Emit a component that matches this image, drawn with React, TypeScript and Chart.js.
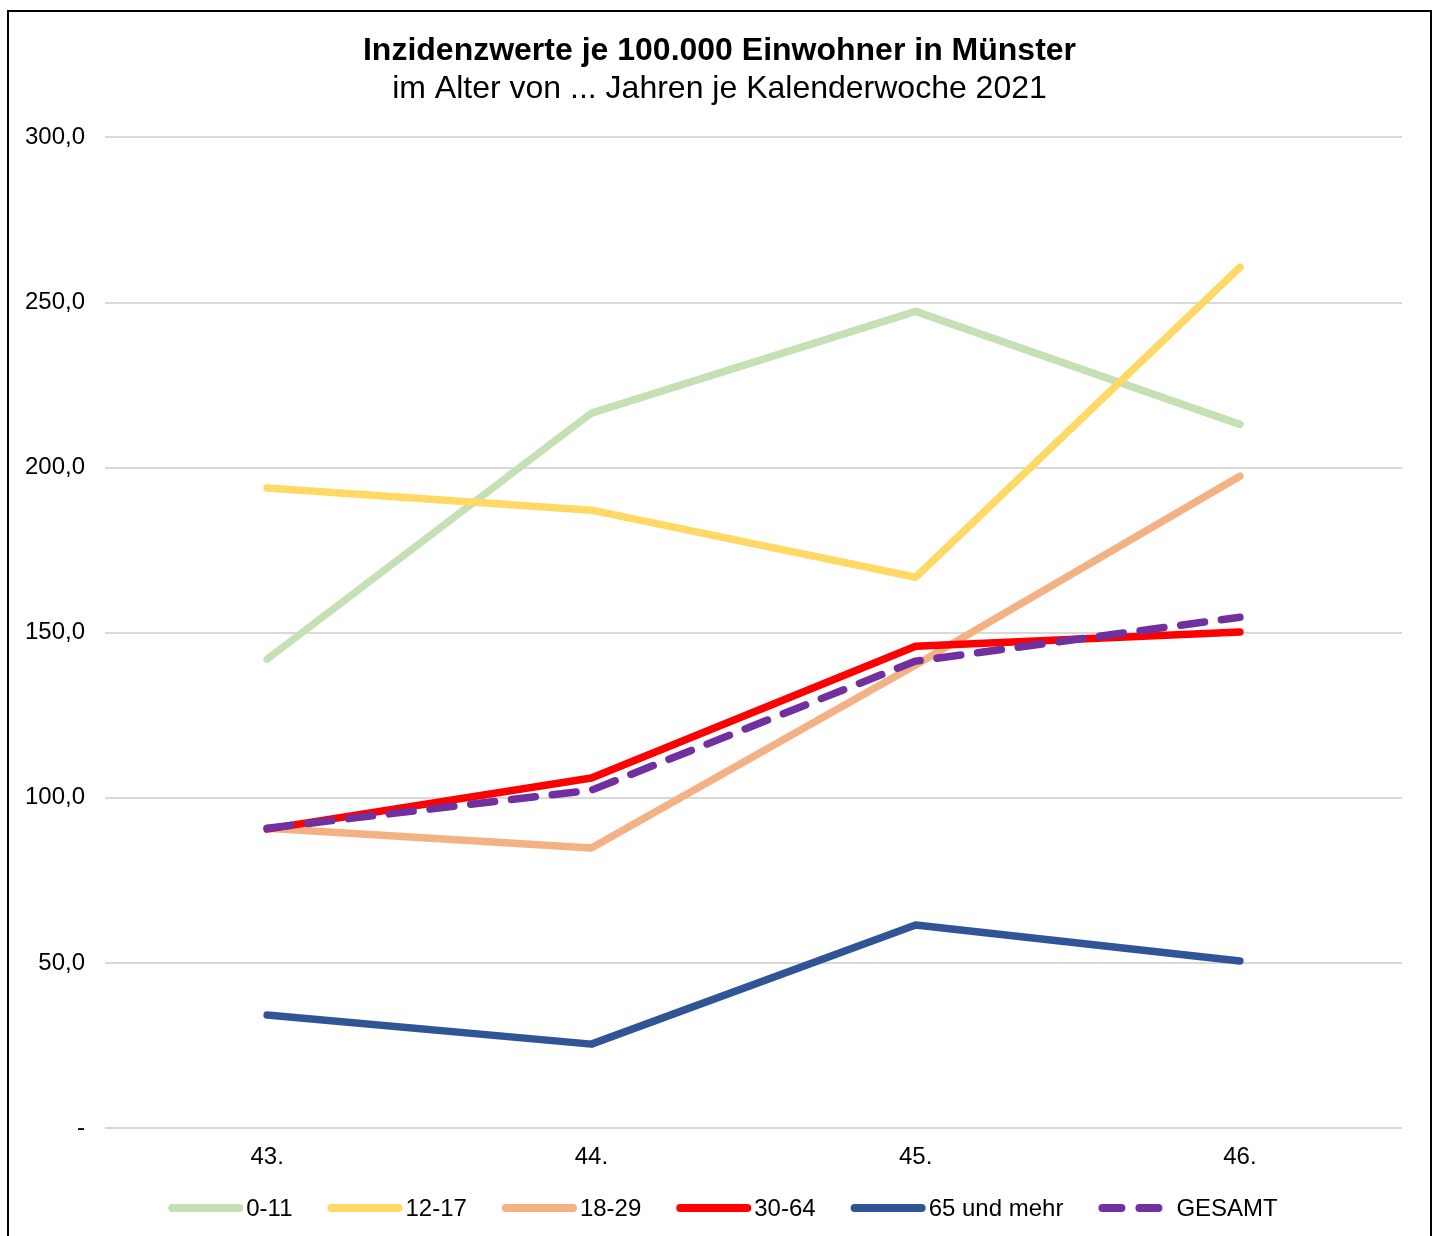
import React, { useEffect, useRef } from "react";
import { Chart, registerables } from "chart.js";

Chart.register(...registerables);

const FONT = '"Liberation Sans", Arial, Helvetica, sans-serif';

const categories = ["43.", "44.", "45.", "46."];
const seriesLabels = ["0-11", "12-17", "18-29", "30-64", "65 und mehr", "GESAMT"];
const age0to11 = [142.0, 216.5, 247.3, 213.1];
const age12to17 = [193.8, 187.1, 166.8, 260.7];
const age18to29 = [90.8, 84.8, 140.2, 197.4];
const age30to64 = [90.5, 106.0, 145.9, 150.2];
const age65plus = [34.2, 25.4, 61.5, 50.6];
const gesamt = [90.8, 102.3, 141.4, 154.7];
const seriesColors = ["#C5E0B4", "#FFD966", "#F4B183", "#FF0000", "#2F5597", "#7030A0"];
const yMin = 0;
const yMax = 300;
const yStep = 50;

const titleText = "Inzidenzwerte je 100.000 Einwohner in Münster";
const subtitleText = "im Alter von ... Jahren je Kalenderwoche 2021";

const centerTitlePlugin = {
  id: "centerTitle",
  afterLayout(chart: any) {
    (chart.boxes || []).forEach((b: any) => {
      if (b && b.options && b.options.text !== undefined && b.position === "top") {
        b.left += 6;
        b.right += 6;
      }
    });
  },
};

const legendPlugin = {
  id: "bottomLegend",
  afterDraw(chart: any) {
    const ctx = chart.ctx;
    ctx.save();
    ctx.font = `24px ${FONT}`;
    ctx.textBaseline = "middle";
    ctx.textAlign = "left";
    const lineLen = 67;
    const textOffset = 78;
    const itemGap = 35;
    const ds = chart.data.datasets;
    const widths = ds.map((d: any) => textOffset + ctx.measureText(d.label).width);
    const total = widths.reduce((a: number, b: number) => a + b, 0) + itemGap * (widths.length - 1);
    let x = 714 - total / 2;
    const y = 1196;
    ds.forEach((d: any, i: number) => {
      ctx.beginPath();
      ctx.lineWidth = 8;
      ctx.lineCap = "round";
      ctx.strokeStyle = d.borderColor;
      ctx.setLineDash(d.borderDash && d.borderDash.length ? [19, 18] : []);
      ctx.moveTo(x + 4, y);
      ctx.lineTo(x + 4 + lineLen, y);
      ctx.stroke();
      ctx.setLineDash([]);
      ctx.fillStyle = "#000";
      ctx.fillText(d.label, x + textOffset, y + 1);
      x += widths[i] + itemGap;
    });
    ctx.restore();
  },
};

export default function App() {
  const ref = useRef<HTMLCanvasElement | null>(null);

  useEffect(() => {
    if (!ref.current) return;
    Chart.defaults.font.family = FONT;
    const seriesData = [age0to11, age12to17, age18to29, age30to64, age65plus, gesamt];
    const chart = new Chart(ref.current, {
      type: "line",
      data: {
        labels: categories,
        datasets: seriesData.map((data, i) => ({
          label: seriesLabels[i],
          data,
          borderColor: seriesColors[i],
          backgroundColor: seriesColors[i],
          borderWidth: 7.5,
          borderCapStyle: "round",
          borderJoinStyle: "round",
          borderDash: i === 5 ? [24, 17] : [],
          pointRadius: 0,
          pointHoverRadius: 0,
          tension: 0,
          fill: false,
          order: seriesData.length - 1 - i,
        })),
      },
      options: {
        responsive: false,
        animation: false,
        events: [],
        layout: { padding: { left: 16, right: 28, top: 0, bottom: 86 } },
        plugins: {
          legend: { display: false },
          tooltip: { enabled: false },
          title: {
            display: true,
            text: titleText,
            color: "#000",
            font: { size: 32, weight: "bold", family: FONT, lineHeight: 1.1 },
            padding: { top: 22, bottom: 0 },
          },
          subtitle: {
            display: true,
            text: subtitleText,
            color: "#000",
            font: { size: 32, weight: "normal", family: FONT, lineHeight: 1.1 },
            padding: { top: 2, bottom: 31 },
          },
        },
        scales: {
          x: {
            offset: true,
            grid: { display: false, drawTicks: false },
            border: { display: false },
            ticks: {
              color: "#000",
              font: { size: 24, family: FONT, lineHeight: 1.2 },
              padding: 15,
              maxRotation: 0,
            },
            afterFit: (scale: any) => {
              scale.height = 44;
            },
          },
          y: {
            min: yMin,
            max: yMax,
            grid: { color: "#d9d9d9", lineWidth: 2, drawTicks: false },
            border: { display: false },
            ticks: {
              stepSize: yStep,
              color: "#000",
              font: { size: 24, family: FONT },
              padding: 20,
              callback: (v: any) => (Number(v) === 0 ? "-" : Number(v).toFixed(1).replace(".", ",")),
            },
            afterFit: (scale: any) => {
              scale.width = 80;
            },
          },
        },
      },
      plugins: [centerTitlePlugin, legendPlugin],
    });
    return () => chart.destroy();
  }, []);

  return (
    <div
      style={{
        position: "fixed",
        left: 7,
        top: 10,
        width: 1425,
        height: 1250,
        border: "2px solid #000",
        boxSizing: "border-box",
        background: "#fff",
      }}
    >
      <canvas ref={ref} width={1421} height={1246} style={{ display: "block", width: 1421, height: 1246 }} />
    </div>
  );
}
